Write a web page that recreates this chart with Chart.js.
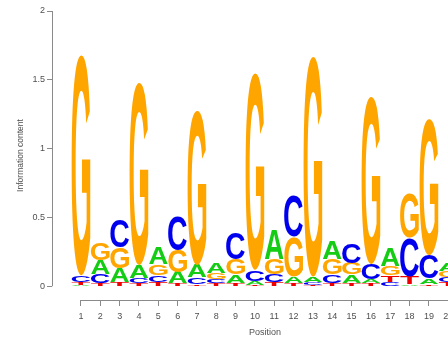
<!DOCTYPE html>
<html>
<head>
<meta charset="utf-8">
<script src="https://cdn.jsdelivr.net/npm/chart.js@4/dist/chart.umd.min.js"></script>
<style>
  html, body { margin: 0; padding: 0; background: #fff; overflow: hidden; }
  #wrap { width: 448px; height: 338px; overflow: hidden; position: relative; }
  canvas { display: block; }
</style>
</head>
<body>
<div id="wrap"><canvas id="logo" width="480" height="338"></canvas></div>
<script>
// Motif positions and per-base information content (bits)
const positions = [1, 2, 3, 4, 5, 6, 7, 8, 9, 10, 11, 12, 13, 14, 15, 16, 17, 18, 19, 20];
const bitsA = [0.01, 0.10, 0.10, 0.09, 0.12, 0.08, 0.09, 0.07, 0.06, 0.03, 0.22, 0.05, 0.04, 0.135, 0.06, 0.03, 0.13, 0.015, 0.04, 0.06];
const bitsC = [0.05, 0.07, 0.20, 0.04, 0.05, 0.25, 0.05, 0.03, 0.19, 0.08, 0.06, 0.295, 0.02, 0.06, 0.14, 0.11, 0.03, 0.28, 0.17, 0.035];
const bitsG = [1.60, 0.125, 0.15, 1.32, 0.08, 0.16, 1.12, 0.045, 0.11, 1.43, 0.11, 0.29, 1.60, 0.11, 0.085, 1.217, 0.07, 0.325, 0.99, 0.045];
const bitsT = [0.02, 0.02, 0.03, 0.02, 0.03, 0.02, 0.015, 0.022, 0.025, 0.01, 0.03, 0.02, 0.01, 0.025, 0.025, 0.02, 0.05, 0.055, 0.015, 0.03];
const yTicks = [0, 0.5, 1, 1.5, 2];

const baseColors = { A: '#14cc14', C: '#0000ee', G: '#ffa500', T: '#ee0000' };
const textColor = '#505050';
const lineColor = '#8a8a8a';
const fontFamily = '"Liberation Sans", Arial, sans-serif';

// Each stack is sorted so the most informative base sits on top.
const bases = { A: bitsA, C: bitsC, G: bitsG, T: bitsT };
const layerLetters = [[], [], [], []];
const layerValues = [[], [], [], []];
positions.forEach((p, i) => {
  const column = Object.keys(bases).map(b => ({ b, v: bases[b][i] }));
  column.sort((u, w) => u.v - w.v);
  column.forEach((c, k) => {
    layerLetters[k].push(c.b);
    layerValues[k].push(c.v);
  });
});

const datasets = layerValues.map((vals, k) => ({
  label: 'layer' + k,
  data: vals,
  backgroundColor: 'rgba(0,0,0,0)',
  borderWidth: 0,
  barPercentage: 0.97,
  categoryPercentage: 1.0
}));

// Draws each base letter stretched to fill its stacked bar segment.
const glyphPlugin = {
  id: 'glyphs',
  afterDatasetsDraw(chart) {
    const ctx = chart.ctx;
    ctx.save();
    ctx.font = 'bold 100px ' + fontFamily;
    ctx.textAlign = 'left';
    ctx.textBaseline = 'alphabetic';
    chart.data.datasets.forEach((ds, d) => {
      const meta = chart.getDatasetMeta(d);
      meta.data.forEach((el, i) => {
        const { x, y, base, width } = el.getProps(['x', 'y', 'base', 'width'], true);
        const h = Math.abs(base - y);
        if (h < 0.4) return;
        const ch = layerLetters[d][i];
        const m = ctx.measureText(ch);
        const gw = m.actualBoundingBoxLeft + m.actualBoundingBoxRight;
        const gh = m.actualBoundingBoxAscent + m.actualBoundingBoxDescent;
        ctx.save();
        ctx.translate(x - width / 2, Math.min(y, base));
        ctx.scale(width / gw, h / gh);
        ctx.fillStyle = baseColors[ch];
        ctx.fillText(ch, m.actualBoundingBoxLeft, m.actualBoundingBoxAscent);
        ctx.restore();
      });
    });
    ctx.restore();
  }
};

// Axis lines span only from the first to the last tick.
const axisLinePlugin = {
  id: 'axisLines',
  afterDraw(chart) {
    const { ctx, chartArea } = chart;
    const xs = chart.scales.x, ys = chart.scales.y;
    ctx.save();
    ctx.strokeStyle = lineColor;
    ctx.lineWidth = 1;
    ctx.beginPath();
    const lx = Math.round(chartArea.left) + 0.5;
    ctx.moveTo(lx, ys.getPixelForValue(yTicks[0]));
    ctx.lineTo(lx, ys.getPixelForValue(yTicks[yTicks.length - 1]));
    const by = Math.round(chartArea.bottom) + 0.5;
    ctx.moveTo(xs.getPixelForValue(positions[0]), by);
    ctx.lineTo(xs.getPixelForValue(positions[positions.length - 1]), by);
    ctx.stroke();
    ctx.restore();
  }
};

new Chart(document.getElementById('logo'), {
  type: 'bar',
  data: { labels: positions, datasets },
  options: {
    responsive: false,
    animation: false,
    layout: { padding: { top: 11, right: 2, left: 0, bottom: 0 } },
    plugins: { legend: { display: false }, tooltip: { enabled: false } },
    scales: {
      x: {
        type: 'linear',
        stacked: true,
        offset: false,
        min: -0.5,
        max: 21.54,
        afterBuildTicks(scale) { scale.ticks = positions.map(v => ({ value: v })); },
        afterFit(scale) { scale.height = 38; },
        border: { display: false },
        grid: { offset: false, drawOnChartArea: false, drawTicks: true, tickLength: 6, color: lineColor },
        ticks: { color: textColor, font: { family: fontFamily, size: 9 }, padding: 5, maxRotation: 0, autoSkip: false },
        title: { display: true, text: 'Position', color: textColor, font: { family: fontFamily, size: 9 }, padding: { top: 0, bottom: 0 } }
      },
      y: {
        stacked: true,
        min: -0.1,
        max: 2,
        afterBuildTicks(scale) { scale.ticks = yTicks.map(v => ({ value: v })); },
        afterFit(scale) { scale.width = 52; },
        border: { display: false },
        grid: { drawOnChartArea: false, drawTicks: true, tickLength: 5, color: lineColor },
        ticks: { color: textColor, font: { family: fontFamily, size: 9 }, padding: 2, callback: v => String(v) },
        title: { display: true, text: 'Information content', color: textColor, font: { family: fontFamily, size: 8.5 }, padding: { top: 16, bottom: 0 } }
      }
    }
  },
  plugins: [glyphPlugin, axisLinePlugin]
});
</script>
</body>
</html>
